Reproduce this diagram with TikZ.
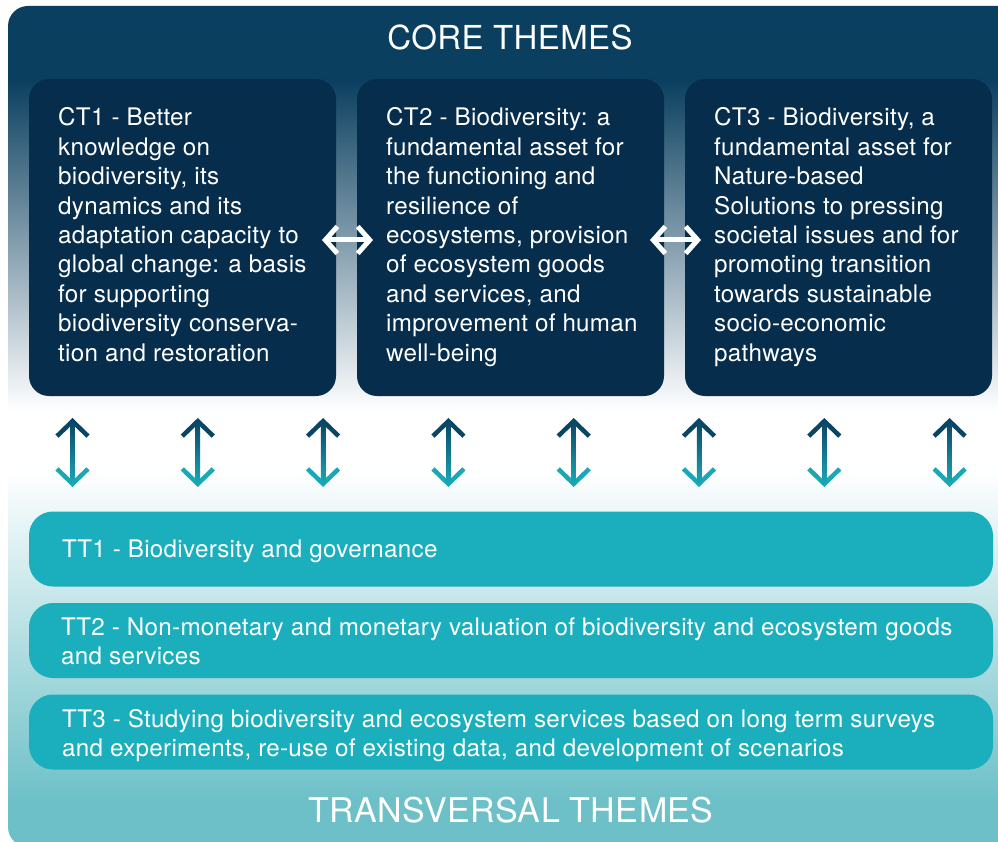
\documentclass[tikz,border=0pt]{standalone}
\usepackage{fontspec}
\setmainfont{TeX Gyre Heros}[LetterSpace=1.2]
\usetikzlibrary{arrows.meta}
\definecolor{panelN}{HTML}{0B3F5F}
\definecolor{ctfill}{HTML}{062D4C}
\definecolor{ttfill}{HTML}{1BAFBD}
\definecolor{panelT}{HTML}{6DC0C7}
\definecolor{arrN}{HTML}{0B4566}
\definecolor{arrT}{HTML}{1AA8B6}
\begin{document}
\begin{tikzpicture}[x=1pt,y=-1pt,
  ctbox/.style={rectangle, rounded corners=20pt, fill=ctfill, draw=none, inner sep=0pt, outer sep=0pt, minimum width=307pt, minimum height=317pt},
  ttbox/.style={rectangle, rounded corners=24pt, fill=ttfill, draw=none, inner sep=0pt, outer sep=0pt, minimum width=964pt, minimum height=75pt},
  bodytext/.style={text=white, inner sep=0pt, anchor=base west, font=\fontsize{24.2}{29.4}\selectfont},
  titletext/.style={text=white, inner sep=0pt, anchor=base},
  harrow/.style={draw=white, line width=5pt, {Straight Barb[length=12pt,width=27pt]}-{Straight Barb[length=12pt,width=27pt]}},
  varrow/.style={draw=arrT, line width=4.5pt, {Straight Barb[length=15pt,width=31pt,color=arrN]}-{Straight Barb[length=15pt,width=31pt]}}
]
\useasboundingbox (0,0) rectangle (998,842);
% background panel
\begin{scope}
  \clip[rounded corners=20pt] (8,6) rectangle (1040,847);
  \fill[panelN] (0,0) rectangle (998,81);
  \shade[top color=panelN, bottom color=white] (0,80) rectangle (998,411);
  \fill[white] (0,410) rectangle (998,471);
  \shade[top color=white, bottom color=panelT] (0,470) rectangle (998,801);
  \fill[panelT] (0,800) rectangle (998,850);
\end{scope}

\node[titletext, font=\fontsize{33}{39}\selectfont] (core) at (510,50) {CORE THEMES};

% core theme boxes
\node[ctbox] (ct1) at (182.5,237.5) {};
\node[ctbox] (ct2) at (510.5,237.5) {};
\node[ctbox] (ct3) at (838.5,237.5) {};

\node[bodytext] (ct1t) at (58,126) {\begin{minipage}[t]{290pt}\raggedright
CT1 - Better\\
knowledge on\\
biodiversity, its\\
dynamics and its\\
adaptation capacity to\\
global change: a basis\\
for supporting\\
biodiversity conserva-\\
tion and restoration\end{minipage}};

\node[bodytext] (ct2t) at (386,126) {\begin{minipage}[t]{290pt}\raggedright
CT2 - Biodiversity: a\\
fundamental asset for\\
the functioning and\\
resilience of\\
ecosystems, provision\\
of ecosystem goods\\
and services, and\\
improvement of human\\
well-being\end{minipage}};

\node[bodytext] (ct3t) at (714,126) {\begin{minipage}[t]{290pt}\raggedright
CT3 - Biodiversity, a\\
fundamental asset for\\
Nature-based\\
Solutions to pressing\\
societal issues and for\\
promoting transition\\
towards sustainable\\
socio-economic\\
pathways\end{minipage}};

% horizontal arrows between core themes
\draw[harrow, shorten <=-14pt, shorten >=-16pt] ([yshift=-2.5pt]ct1.east) -- ([yshift=-2.5pt]ct2.west);
\draw[harrow, shorten <=-14pt, shorten >=-16pt] ([yshift=-2.5pt]ct2.east) -- ([yshift=-2.5pt]ct3.west);

% vertical arrows
\foreach \i in {1,...,8} {
  \pgfmathsetmacro\xx{72.5+125.3*(\i-1)}
  \coordinate (t\i) at (\xx,418);
  \coordinate (b\i) at (\xx,487);
}
\foreach \i in {1,...,8} {
  \draw[varrow] (t\i) -- (b\i);
  \shade[top color=arrN, bottom color=arrT] ([xshift=-2.25pt,yshift=-3pt]t\i) rectangle ([xshift=2.25pt,yshift=3pt]b\i);
}

% transversal theme boxes
\node[ttbox] (tt1) at (511,549) {};
\node[ttbox] (tt2) at (511,640.5) {};
\node[ttbox] (tt3) at (511,732) {};

\node[bodytext] (tt1t) at (62,557) {TT1 - Biodiversity and governance};
\node[bodytext] (tt2t) at (61,635) {\begin{minipage}[t]{925pt}\raggedright
TT2 - Non-monetary and monetary valuation of biodiversity and ecosystem goods\\
and services\end{minipage}};
\node[bodytext] (tt3t) at (62,727) {\begin{minipage}[t]{925pt}\raggedright
TT3 - Studying biodiversity and ecosystem services based on long term surveys\\
and experiments, re-use of existing data, and development of scenarios\end{minipage}};

\node[titletext, font=\fontsize{34}{41}\selectfont] (trans) at (511,822) {TRANSVERSAL THEMES};
\end{tikzpicture}
\end{document}
